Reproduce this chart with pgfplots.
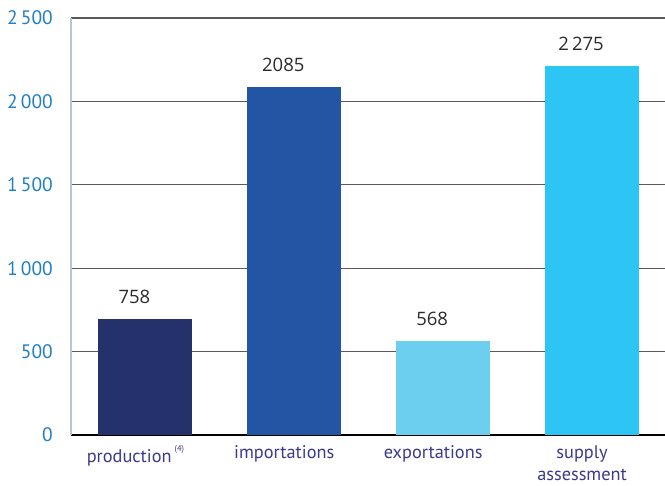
\documentclass[border=0pt]{standalone}
\usepackage{pgfplots}
\pgfplotsset{compat=1.18}
\usepackage{fontspec}
\setmainfont{PT Sans}
\newfontfamily\valfont{Open Sans}
\definecolor{cprod}{HTML}{25316B}
\definecolor{cimp}{HTML}{2255A4}
\definecolor{cexp}{HTML}{6DCFF0}
\definecolor{csup}{HTML}{2DC5F4}
\definecolor{ylab}{HTML}{1F7FC6}
\definecolor{xlab}{HTML}{3A3A8C}
\definecolor{vlab}{HTML}{2B2B2B}
\definecolor{gridc}{HTML}{5A5A5A}
\definecolor{yaxc}{HTML}{B6C8CF}
\begin{document}
\begin{tikzpicture}
\begin{axis}[
  name=ax,
  scale only axis,
  width=594pt, height=417pt,
  xmin=-0.5, xmax=3.49,
  ymin=0, ymax=2500,
  axis x line*=bottom,
  axis y line*=left,
  x axis line style={black, line width=1.2pt, -},
  y axis line style={yaxc, line width=1.4pt, -},
  major tick length=0pt,
  ytick={0,500,1000,1500,2000,2500},
  yticklabels={0,500,1\,000,1\,500,2\,000,2\,500},
  yticklabel style={anchor=east, inner sep=0pt, xshift=-18pt, text=ylab, font=\fontsize{19.5}{22}\selectfont},
  xtick={0,1,2,3},
  xticklabels={production\,\raisebox{0.6em}{\fontsize{8.5}{8.5}\selectfont(4)}, importations, exportations, supply\\assessment},
  xticklabel style={anchor=north, inner sep=0pt, yshift=-10pt, xshift=-10pt, align=center, text=xlab, font=\fontsize{18.3}{22}\selectfont},
  ymajorgrids,
  grid style={gridc, line width=1.3pt},
  bar width=94pt,
  ybar, bar shift=0pt,
  point meta=explicit symbolic,
  nodes near coords,
  every node near coord/.append style={anchor=base, yshift=15.5pt, xshift=-11pt, text=vlab, font=\valfont\fontsize{18.5}{20}\selectfont},
  clip=false,
]
\addplot[fill=cprod, draw=none] coordinates {(0,697) [758]};
\addplot[fill=cimp, draw=none] coordinates {(1,2085) [2085]};
\addplot[fill=cexp, draw=none] coordinates {(2,565) [568]};
\addplot[fill=csup, draw=none] coordinates {(3,2215) [2\,275]};
\end{axis}
\pgfresetboundingbox
\path ([xshift=-71pt,yshift=-51pt]ax.south west) rectangle ([yshift=18pt]ax.north east);
\end{tikzpicture}
\end{document}
